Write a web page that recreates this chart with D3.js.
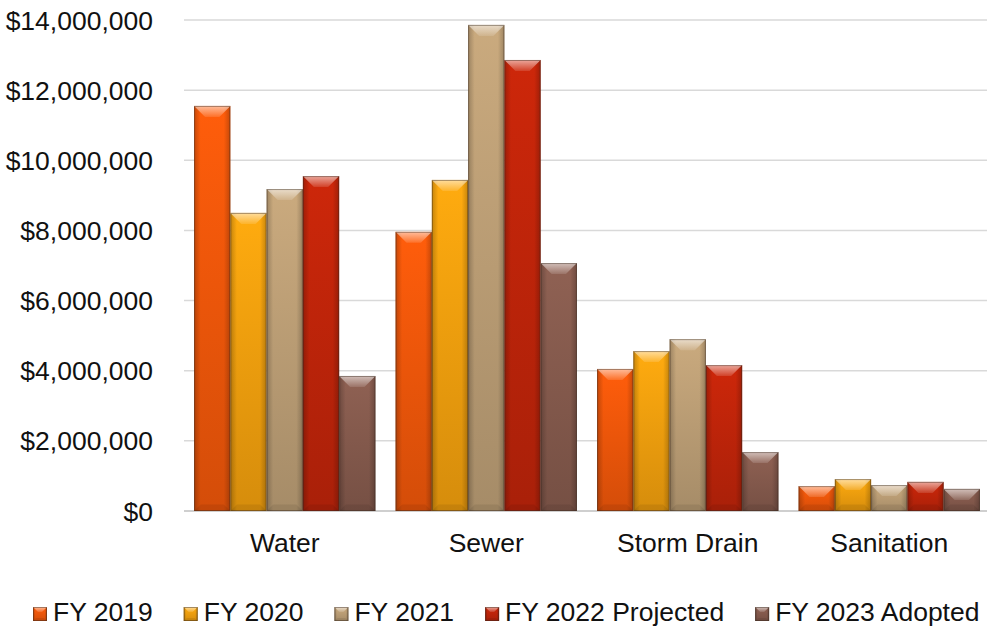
<!DOCTYPE html>
<html>
<head>
<meta charset="utf-8">
<script src="https://cdn.jsdelivr.net/npm/d3@7"></script>
<style>
  body { margin: 0; background: #fff; }
  svg { display: block; font-family: "Liberation Sans", Arial, sans-serif; }
</style>
</head>
<body>
<div id="chart"></div>
<script>
// Data
var categories = ["Water", "Sewer", "Storm Drain", "Sanitation"];
var seriesNames = ["FY 2019", "FY 2020", "FY 2021", "FY 2022 Projected", "FY 2023 Adopted"];
var fy2019 = [11550000, 7960000, 4050000, 710000];
var fy2020 = [8500000, 9440000, 4560000, 910000];
var fy2021 = [9180000, 13860000, 4900000, 740000];
var fy2022 = [9550000, 12860000, 4160000, 830000];
var fy2023 = [3850000, 7070000, 1680000, 630000];
var yTicks = [0, 2000000, 4000000, 6000000, 8000000, 10000000, 12000000, 14000000];

var seriesValues = [fy2019, fy2020, fy2021, fy2022, fy2023];
var colors = ["#f95a0b", "#fba50e", "#c3a47a", "#c6260a", "#8a5e50"];
var fontSize = 26.5;

var W = 987, H = 626;
var svg = d3.select("#chart").append("svg").attr("width", W).attr("height", H);
var defs = svg.append("defs");

// gradients for the bevelled look
colors.forEach(function (c, i) {
    var g = defs.append("linearGradient").attr("id", "body" + i)
        .attr("x1", 0).attr("y1", 0).attr("x2", 0).attr("y2", 1);
    g.append("stop").attr("offset", 0).attr("stop-color", d3.color(c).brighter(0.1));
    g.append("stop").attr("offset", 1).attr("stop-color", d3.color(c).darker(0.45));
});
var sideGrad = defs.append("linearGradient").attr("id", "side")
    .attr("x1", 0).attr("y1", 0).attr("x2", 1).attr("y2", 0);
sideGrad.append("stop").attr("offset", 0).attr("stop-color", "#000").attr("stop-opacity", 0.22);
sideGrad.append("stop").attr("offset", 0.18).attr("stop-color", "#000").attr("stop-opacity", 0);
sideGrad.append("stop").attr("offset", 0.82).attr("stop-color", "#000").attr("stop-opacity", 0);
sideGrad.append("stop").attr("offset", 1).attr("stop-color", "#000").attr("stop-opacity", 0.22);
var topGrad = defs.append("linearGradient").attr("id", "topface")
    .attr("x1", 0).attr("y1", 0).attr("x2", 0).attr("y2", 1);
topGrad.append("stop").attr("offset", 0).attr("stop-color", "#fff").attr("stop-opacity", 0.6);
topGrad.append("stop").attr("offset", 1).attr("stop-color", "#fff").attr("stop-opacity", 0.12);

var margin = { left: 184, top: 20, right: 0, bottom: 115 };
var plotRight = 990;

var x0 = d3.scaleBand().domain(categories).range([margin.left, plotRight])
    .paddingInner(0.1).paddingOuter(0.05);
var x1 = d3.scaleBand().domain(seriesNames).range([0, x0.bandwidth()]);
var y = d3.scaleLinear().domain([0, 14000000]).range([H - margin.bottom, margin.top]);

// gridlines
svg.append("g").selectAll("line").data(yTicks).enter().append("line")
    .attr("x1", margin.left).attr("x2", W)
    .attr("y1", d => y(d)).attr("y2", d => y(d))
    .attr("stroke", d => d === 0 ? "#cfcfcf" : "#d9d9d9")
    .attr("stroke-width", d => d === 0 ? 2 : 1.5);

// y labels
svg.append("g").selectAll("text").data(yTicks).enter().append("text")
    .attr("x", 153).attr("y", d => y(d) + 9.5)
    .attr("text-anchor", "end").attr("font-size", fontSize).attr("fill", "#111")
    .text(d => d3.format("$,")(d));

// category labels
svg.append("g").selectAll("text").data(categories).enter().append("text")
    .attr("x", d => x0(d) + x0.bandwidth() / 2).attr("y", 552)
    .attr("text-anchor", "middle").attr("font-size", fontSize).attr("fill", "#111")
    .text(d => d);

function bevelBar(g, bx, by, bw, bh, i, bevel) {
    var h = Math.min(bevel, bh / 2);
    var inset = Math.min(h, bw / 2);
    g.append("rect").attr("x", bx).attr("y", by).attr("width", bw).attr("height", bh)
        .attr("fill", "url(#body" + i + ")");
    g.append("rect").attr("x", bx).attr("y", by).attr("width", bw).attr("height", bh)
        .attr("fill", "url(#side)");
    // top face
    g.append("polygon")
        .attr("points", [[bx, by], [bx + bw, by], [bx + bw - inset, by + h], [bx + inset, by + h]].join(" "))
        .attr("fill", "url(#topface)");
    // bottom face
    var hb = h * 0.6;
    g.append("polygon")
        .attr("points", [[bx, by + bh], [bx + bw, by + bh], [bx + bw - hb, by + bh - hb], [bx + hb, by + bh - hb]].join(" "))
        .attr("fill", "#000").attr("fill-opacity", 0.08);
    g.append("rect").attr("x", bx + 0.5).attr("y", by + 0.5).attr("width", bw - 1).attr("height", bh - 1)
        .attr("fill", "none").attr("stroke", "#3a2a20").attr("stroke-opacity", 0.45);
}

// bars
var bars = svg.append("g");
seriesValues.forEach(function (vals, i) {
    vals.forEach(function (v, j) {
        var bx = x0(categories[j]) + x1(seriesNames[i]);
        var by = y(v);
        bevelBar(bars.append("g"), bx, by, x1.bandwidth(), y(0) - by, i, 11);
    });
});

// legend
var legend = svg.append("g");
var lx = 33;
seriesNames.forEach(function (name, i) {
    bevelBar(legend.append("g"), lx, 607, 14, 14, i, 5);
    var t = legend.append("text").attr("x", lx + 20).attr("y", 621)
        .attr("font-size", fontSize).attr("fill", "#111").text(name);
    lx += 20 + t.node().getComputedTextLength() + 31;
});
</script>
</body>
</html>
